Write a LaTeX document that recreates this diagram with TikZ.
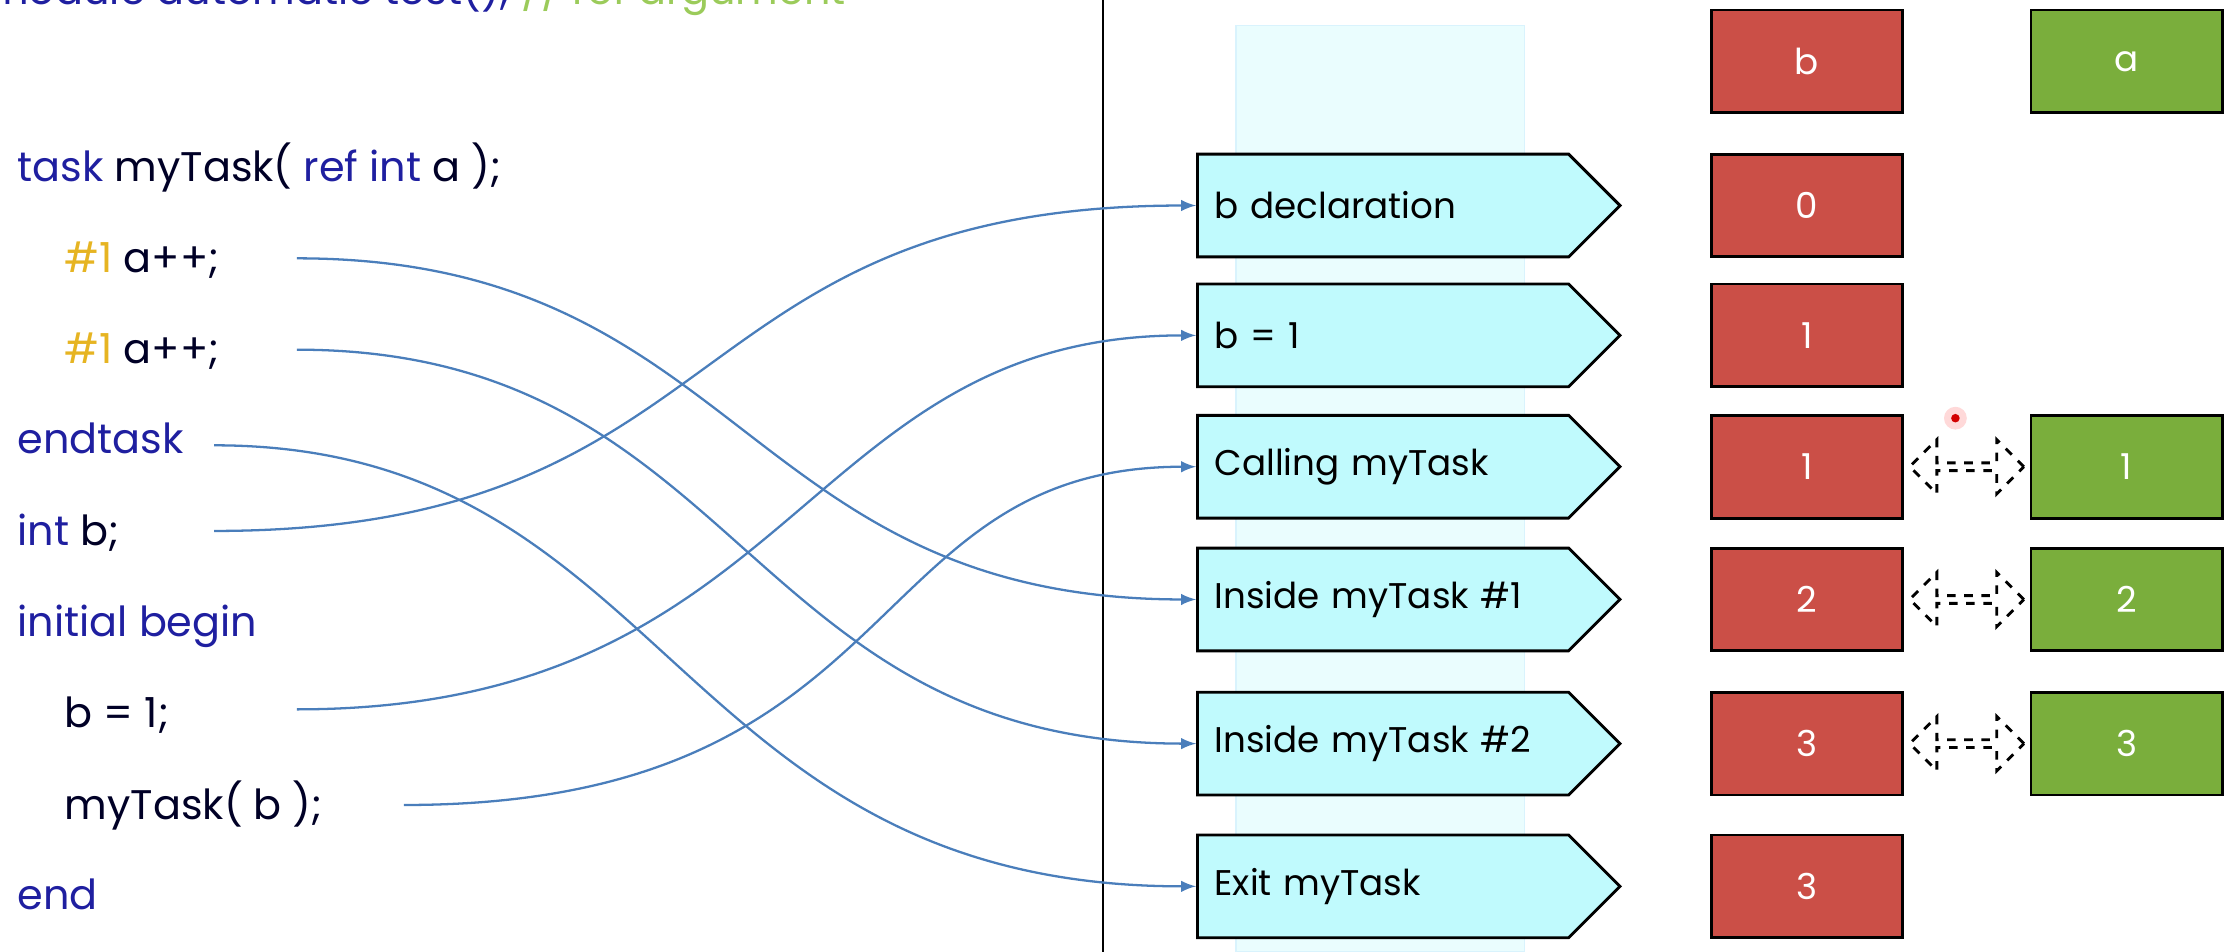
\documentclass[tikz,border=0pt]{standalone}
\usepackage{fontspec}
\setmainfont{Poppins}
\usetikzlibrary{shapes.symbols,shapes.arrows}
\definecolor{kw}{HTML}{1F1FA0}
\definecolor{num}{HTML}{E6B422}
\definecolor{cmt}{HTML}{9BCB5A}
\definecolor{redbox}{HTML}{CB4F47}
\definecolor{greenbox}{HTML}{7AAE3C}
\definecolor{cyanbox}{HTML}{C0FAFD}
\definecolor{lane}{HTML}{EAFDFE}
\definecolor{linkc}{HTML}{4A7EBB}
\begin{document}
\begin{tikzpicture}[x=0.5pt,y=-0.5pt,
  code/.style={anchor=base west,inner sep=0,font=\fontsize{14.5}{16}\selectfont,text=black!85!blue},
  stagebox/.style={signal,signal to=east,draw=black,line width=1pt,fill=cyanbox,minimum width=128.5pt,minimum height=36pt,inner sep=0,text width=118pt,align=left,font=\fontsize{12.5}{15}\selectfont,inner xsep=6pt},
  rbox/.style={draw=black,line width=1pt,fill=redbox,minimum width=67pt,minimum height=36pt,text=white,font=\fontsize{12.5}{15}\selectfont},
  gbox/.style={rbox,fill=greenbox},
  conn/.style={draw=linkc,line width=0.8pt,-latex},
  dbl/.style={double arrow,draw=black,dashed,line width=1pt,minimum width=19pt,double arrow head extend=3pt,minimum height=40pt,inner sep=0}]
\clip (0,0) rectangle (1568,667);
\node[code,text=kw] (top) at (-10,3) {module automatic test(); \textcolor{cmt}{// ref argument}};
\draw[black,line width=0.8pt] (773,0) -- (773,667);
\fill[lane,draw=cyan!15] (866,18) rectangle (1068,667);
% code
\node[code] (c1) at (12,127) {\textcolor{kw}{task} myTask( \textcolor{kw}{ref int} a );};
\node[code] (c2) at (45,191) {\textcolor{num}{\#1} a++;};
\node[code] (c3) at (45,255) {\textcolor{num}{\#1} a++;};
\node[code] (c4) at (12,318) {\textcolor{kw}{endtask}};
\node[code] (c5) at (12,382) {\textcolor{kw}{int} b;};
\node[code] (c6) at (12,446) {\textcolor{kw}{initial begin}};
\node[code] (c7) at (45,510) {b = 1;};
\node[code] (c8) at (45,574) {myTask( b );};
\node[code] (c9) at (12,637) {\textcolor{kw}{end}};
\coordinate (s2) at (208,181);
\coordinate (s3) at (208,245);
\coordinate (s4) at (150,312);
\coordinate (s5) at (150,372);
\coordinate (s7) at (208,497);
\coordinate (s8) at (283,564);
% steps
\node[stagebox,anchor=west] (t1) at (838,144) {b declaration};
\node[stagebox,anchor=west] (t2) at (838,235) {b = 1};
\node[stagebox,anchor=west] (t3) at (838,327) {Calling myTask};
\node[stagebox,anchor=west] (t4) at (838,420) {Inside myTask \#1};
\node[stagebox,anchor=west] (t5) at (838,521) {Inside myTask \#2};
\node[stagebox,anchor=west] (t6) at (838,621) {Exit myTask};
% b column
\node[rbox] (bh) at (1266,43) {b};
\node[rbox] (b1) at (1266,144) {0};
\node[rbox] (b2) at (1266,235) {1};
\node[rbox] (b3) at (1266,327) {1};
\node[rbox] (b4) at (1266,420) {2};
\node[rbox] (b5) at (1266,521) {3};
\node[rbox] (b6) at (1266,621) {3};
% a column
\node[gbox] (ah) at (1490,43) {a};
\node[gbox] (a3) at (1490,327) {1};
\node[gbox] (a4) at (1490,420) {2};
\node[gbox] (a5) at (1490,521) {3};
\node[dbl] (d3) at (1378,327) {};
\node[dbl] (d4) at (1378,420) {};
\node[dbl] (d5) at (1378,521) {};
\fill[red!80!black] (1370,293) circle (3);
\fill[red,opacity=0.15] (1370,293) circle (8);
% links
\draw[conn] (s2) .. controls (520,181) and (520,420) .. (t4.west);
\draw[conn] (s3) .. controls (520,245) and (520,521) .. (t5.west);
\draw[conn] (s4) .. controls (470,312) and (470,621) .. (t6.west);
\draw[conn] (s5) .. controls (520,372) and (470,144) .. (t1.west);
\draw[conn] (s7) .. controls (560,497) and (560,235) .. (t2.west);
\draw[conn] (s8) .. controls (640,564) and (600,327) .. (t3.west);
\end{tikzpicture}
\end{document}
